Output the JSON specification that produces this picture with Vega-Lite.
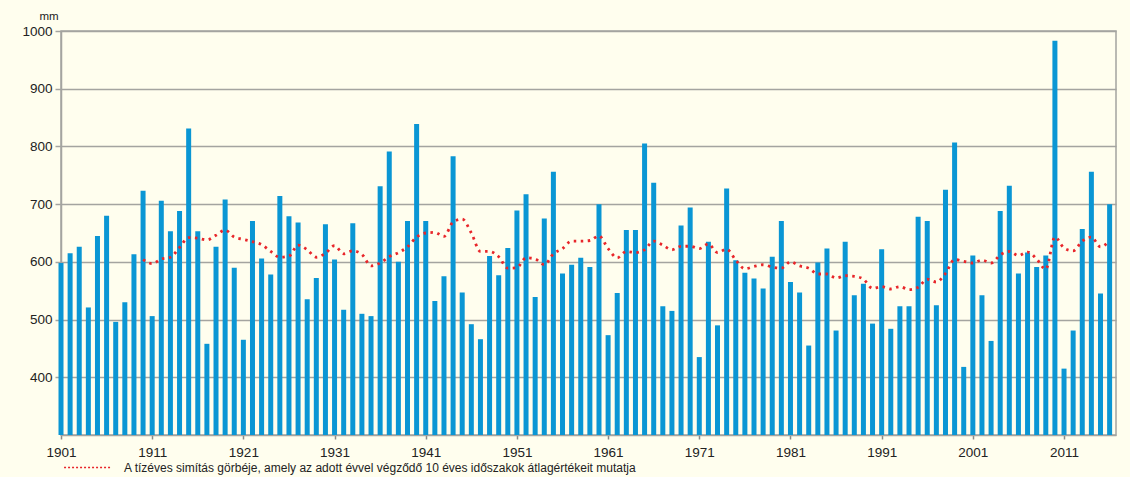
{
  "$schema": "https://vega.github.io/schema/vega-lite/v6.json",
  "autosize": "none",
  "width": 1055,
  "height": 404,
  "padding": {"left": 61, "top": 31, "right": 14, "bottom": 42},
  "background": "#FFFEEE",
  "config": {
    "view": {"stroke": "#A4A4A0", "strokeWidth": 1.5},
    "font": "Liberation Sans",
    "scale": {"continuousPadding": 0}
  },
  "datasets": {
    "bars": [
      {"year":1901,"mm":598},{"year":1902,"mm":615},{"year":1903,"mm":626},{"year":1904,"mm":521},{"year":1905,"mm":645},
      {"year":1906,"mm":680},{"year":1907,"mm":496},{"year":1908,"mm":530},{"year":1909,"mm":613},{"year":1910,"mm":723},
      {"year":1911,"mm":506},{"year":1912,"mm":706},{"year":1913,"mm":653},{"year":1914,"mm":688},{"year":1915,"mm":831},
      {"year":1916,"mm":653},{"year":1917,"mm":458},{"year":1918,"mm":626},{"year":1919,"mm":708},{"year":1920,"mm":590},
      {"year":1921,"mm":465},{"year":1922,"mm":671},{"year":1923,"mm":606},{"year":1924,"mm":578},{"year":1925,"mm":714},
      {"year":1926,"mm":679},{"year":1927,"mm":668},{"year":1928,"mm":535},{"year":1929,"mm":572},{"year":1930,"mm":665},
      {"year":1931,"mm":604},{"year":1932,"mm":517},{"year":1933,"mm":667},{"year":1934,"mm":510},{"year":1935,"mm":506},
      {"year":1936,"mm":731},{"year":1937,"mm":791},{"year":1938,"mm":600},{"year":1939,"mm":671},{"year":1940,"mm":839},
      {"year":1941,"mm":671},{"year":1942,"mm":532},{"year":1943,"mm":575},{"year":1944,"mm":783},{"year":1945,"mm":547},
      {"year":1946,"mm":492},{"year":1947,"mm":466},{"year":1948,"mm":610},{"year":1949,"mm":577},{"year":1950,"mm":624},
      {"year":1951,"mm":689},{"year":1952,"mm":717},{"year":1953,"mm":539},{"year":1954,"mm":675},{"year":1955,"mm":756},
      {"year":1956,"mm":580},{"year":1957,"mm":595},{"year":1958,"mm":607},{"year":1959,"mm":591},{"year":1960,"mm":700},
      {"year":1961,"mm":473},{"year":1962,"mm":546},{"year":1963,"mm":655},{"year":1964,"mm":655},{"year":1965,"mm":805},
      {"year":1966,"mm":737},{"year":1967,"mm":523},{"year":1968,"mm":515},{"year":1969,"mm":663},{"year":1970,"mm":694},
      {"year":1971,"mm":435},{"year":1972,"mm":635},{"year":1973,"mm":490},{"year":1974,"mm":727},{"year":1975,"mm":603},
      {"year":1976,"mm":581},{"year":1977,"mm":571},{"year":1978,"mm":554},{"year":1979,"mm":609},{"year":1980,"mm":671},
      {"year":1981,"mm":565},{"year":1982,"mm":547},{"year":1983,"mm":455},{"year":1984,"mm":599},{"year":1985,"mm":623},
      {"year":1986,"mm":481},{"year":1987,"mm":635},{"year":1988,"mm":542},{"year":1989,"mm":562},{"year":1990,"mm":493},
      {"year":1991,"mm":622},{"year":1992,"mm":484},{"year":1993,"mm":523},{"year":1994,"mm":523},{"year":1995,"mm":678},
      {"year":1996,"mm":671},{"year":1997,"mm":525},{"year":1998,"mm":725},{"year":1999,"mm":807},{"year":2000,"mm":418},
      {"year":2001,"mm":611},{"year":2002,"mm":542},{"year":2003,"mm":463},{"year":2004,"mm":688},{"year":2005,"mm":732},
      {"year":2006,"mm":580},{"year":2007,"mm":616},{"year":2008,"mm":591},{"year":2009,"mm":611},{"year":2010,"mm":983},
      {"year":2011,"mm":415},{"year":2012,"mm":481},{"year":2013,"mm":657},{"year":2014,"mm":756},{"year":2015,"mm":545},
      {"year":2016,"mm":700}
    ],
    "avg": [
      {"year":1910,"avg":604},{"year":1911,"avg":597},{"year":1912,"avg":605},{"year":1913,"avg":608},{"year":1914,"avg":625},
      {"year":1915,"avg":642},{"year":1916,"avg":641},{"year":1917,"avg":638},{"year":1918,"avg":646},{"year":1919,"avg":655},
      {"year":1920,"avg":643},{"year":1921,"avg":639},{"year":1922,"avg":635},{"year":1923,"avg":630},{"year":1924,"avg":618},
      {"year":1925,"avg":608},{"year":1926,"avg":610},{"year":1927,"avg":629},{"year":1928,"avg":621},{"year":1929,"avg":608},
      {"year":1930,"avg":615},{"year":1931,"avg":628},{"year":1932,"avg":614},{"year":1933,"avg":619},{"year":1934,"avg":613},
      {"year":1935,"avg":593},{"year":1936,"avg":598},{"year":1937,"avg":609},{"year":1938,"avg":616},{"year":1939,"avg":626},
      {"year":1940,"avg":643},{"year":1941,"avg":650},{"year":1942,"avg":651},{"year":1943,"avg":644},{"year":1944,"avg":669},
      {"year":1945,"avg":674},{"year":1946,"avg":650},{"year":1947,"avg":618},{"year":1948,"avg":618},{"year":1949,"avg":609},
      {"year":1950,"avg":589},{"year":1951,"avg":590},{"year":1952,"avg":607},{"year":1953,"avg":605},{"year":1954,"avg":595},
      {"year":1955,"avg":614},{"year":1956,"avg":623},{"year":1957,"avg":636},{"year":1958,"avg":636},{"year":1959,"avg":637},
      {"year":1960,"avg":645},{"year":1961,"avg":623},{"year":1962,"avg":607},{"year":1963,"avg":618},{"year":1964,"avg":616},
      {"year":1965,"avg":621},{"year":1966,"avg":636},{"year":1967,"avg":629},{"year":1968,"avg":621},{"year":1969,"avg":627},
      {"year":1970,"avg":627},{"year":1971,"avg":623},{"year":1972,"avg":631},{"year":1973,"avg":616},{"year":1974,"avg":622},
      {"year":1975,"avg":603},{"year":1976,"avg":588},{"year":1977,"avg":592},{"year":1978,"avg":595},{"year":1979,"avg":591},
      {"year":1980,"avg":589},{"year":1981,"avg":600},{"year":1982,"avg":593},{"year":1983,"avg":589},{"year":1984,"avg":579},
      {"year":1985,"avg":579},{"year":1986,"avg":572},{"year":1987,"avg":576},{"year":1988,"avg":575},{"year":1989,"avg":570},
      {"year":1990,"avg":554},{"year":1991,"avg":557},{"year":1992,"avg":553},{"year":1993,"avg":557},{"year":1994,"avg":552},
      {"year":1995,"avg":556},{"year":1996,"avg":570},{"year":1997,"avg":565},{"year":1998,"avg":580},{"year":1999,"avg":604},
      {"year":2000,"avg":601},{"year":2001,"avg":598},{"year":2002,"avg":603},{"year":2003,"avg":598},{"year":2004,"avg":612},
      {"year":2005,"avg":618},{"year":2006,"avg":611},{"year":2007,"avg":617},{"year":2008,"avg":605},{"year":2009,"avg":587},
      {"year":2010,"avg":643},{"year":2011,"avg":624},{"year":2012,"avg":619},{"year":2013,"avg":636},{"year":2014,"avg":643},
      {"year":2015,"avg":626},{"year":2016,"avg":637}
    ]
  },
  "layer": [
    {
      "data": {"name": "bars"},
      "mark": {"type": "bar", "width": 5, "color": "#0A96D4", "clip": false},
      "encoding": {
        "x": {"field": "year", "type": "quantitative",
              "scale": {"domain": [1901, 2016.7], "nice": false, "zero": false, "padding": 0},
              "axis": {"title": null, "values": [1901,1911,1921,1931,1941,1951,1961,1971,1981,1991,2001,2011], "format": "d", "grid": false, "tickSize": 4, "labelPadding": 6, "labelFlush": false,
                       "labelFont": "Liberation Sans", "labelFontSize": 13.5, "labelColor": "#222222", "domainColor": "#A4A4A0", "domainWidth": 1.5, "tickColor": "#8A8A86", "tickWidth": 1.5}},
        "y": {"field": "mm", "type": "quantitative",
              "scale": {"domain": [300, 1000], "nice": false, "zero": false},
              "axis": {"title": "mm", "titleAngle": 0, "titleAlign": "left", "titleBaseline": "middle", "titleX": -22, "titleY": -15, "titleFontSize": 11.5, "titleFontWeight": "normal", "titleColor": "#222222", "titleFont": "Liberation Sans",
                       "values": [400,500,600,700,800,900,1000], "format": "d", "grid": true, "tickSize": 6, "labelPadding": 3,
                       "labelFont": "Liberation Sans", "labelFontSize": 13.5, "labelColor": "#222222", "domainColor": "#A4A4A0", "domainWidth": 1.5, "tickColor": "#A4A4A0", "tickWidth": 1.5, "gridColor": "#A4A4A0", "gridWidth": 1.5}},
        "y2": {"datum": 300}
      }
    },
    {
      "data": {"name": "avg"},
      "mark": {"type": "line", "interpolate": "monotone", "strokeWidth": 2.8, "strokeDash": [2.5, 4.5]},
      "encoding": {
        "x": {"field": "year", "type": "quantitative"},
        "y": {"field": "avg", "type": "quantitative"},
        "color": {"datum": "A tízéves simítás görbéje, amely az adott évvel végződő 10 éves időszakok átlagértékeit mutatja",
                  "scale": {"range": ["#E8262A"]},
                  "legend": {"title": null, "orient": "none", "legendX": 2, "legendY": 412, "symbolType": "stroke", "symbolSize": 2200, "symbolStrokeWidth": 1.5, "symbolDash": [2, 2], "labelFontSize": 12, "labelColor": "#222222", "labelFont": "Liberation Sans", "labelLimit": 1000, "labelOffset": 12}}
      }
    }
  ]
}
